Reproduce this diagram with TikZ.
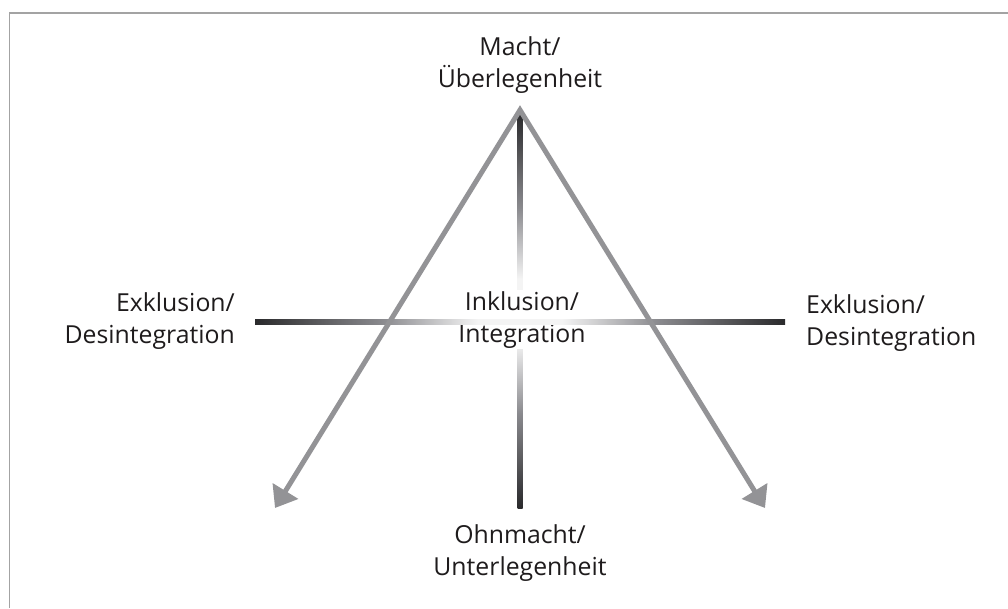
\documentclass[tikz,border=0pt]{standalone}
\usepackage{fontspec}
\setmainfont{Open Sans}
\usetikzlibrary{arrows.meta}
\definecolor{arrowgray}{HTML}{939396}
\definecolor{framegray}{HTML}{A3A3A3}
\definecolor{bardark}{HTML}{2A2A2C}
\definecolor{barmid}{HTML}{8A8A8E}
\definecolor{barlight}{HTML}{F4F4F4}
\definecolor{textdark}{HTML}{1E1B1C}
\pgfdeclarehorizontalshading{hbarshade}{100bp}{color(0bp)=(bardark); color(25bp)=(bardark); color(37bp)=(barmid); color(46bp)=(barlight); color(54bp)=(barlight); color(63bp)=(barmid); color(75bp)=(bardark); color(100bp)=(bardark)}
\pgfdeclareverticalshading{vbarshade}{100bp}{color(0bp)=(bardark); color(25bp)=(bardark); color(37bp)=(barmid); color(46bp)=(barlight); color(54bp)=(barlight); color(63bp)=(barmid); color(75bp)=(bardark); color(100bp)=(bardark)}
\tikzset{
  lbl/.style={font=\fontsize{24.8}{32}\selectfont, text=textdark, inner sep=0pt},
  framestyle/.style={framegray, line width=1.5pt},
  arr/.style={arrowgray, line width=5pt, line join=miter,
    {Triangle[length=20pt,width=29pt]}-{Triangle[length=20pt,width=29pt]}},
}
\begin{document}
\begin{tikzpicture}[x=1pt,y=-1pt]
\useasboundingbox (0,0) rectangle (1008,608);
% frame
\coordinate (fbl) at (9.5,608);
\coordinate (ftl) at (9.5,13);
\coordinate (ftr) at (1008,13);
\draw[framestyle] (fbl) -- (ftl) -- (ftr);
% points
\coordinate (apex) at (520,110);
\coordinate (lend) at (275,508);
\coordinate (rend) at (765,508);
\coordinate (vtop) at (520,113);
\coordinate (vbot) at (520,508);
\coordinate (hleft) at (255,321.5);
\coordinate (hright) at (785,321.5);
% vertical bar
\shade[shading=vbarshade] ([xshift=-2.5pt]vtop) rectangle ([xshift=2.5pt]vbot);
% center label
\node[lbl, align=center, anchor=base, fill=white, inner sep=1pt] (inkl) at (522,342) {Inklusion/\\Integration};
% horizontal bar
\shade[shading=hbarshade] ([yshift=-2.5pt]hleft) rectangle ([yshift=2.5pt]hright);
% arrows
\draw[arr] (lend) -- (apex) -- (rend);
% labels
\node[lbl, align=center, anchor=base] (macht) at (520,87) {Macht/\\Überlegenheit};
\node[lbl, align=center, anchor=base] (ohn) at (520,575) {Ohnmacht/\\Unterlegenheit};
\node[lbl, align=right, anchor=base east] (exl) at (235,343) {Exklusion/\\Desintegration};
\node[lbl, align=left, anchor=base west] (exr) at (806,345) {Exklusion/\\Desintegration};
\end{tikzpicture}
\end{document}
